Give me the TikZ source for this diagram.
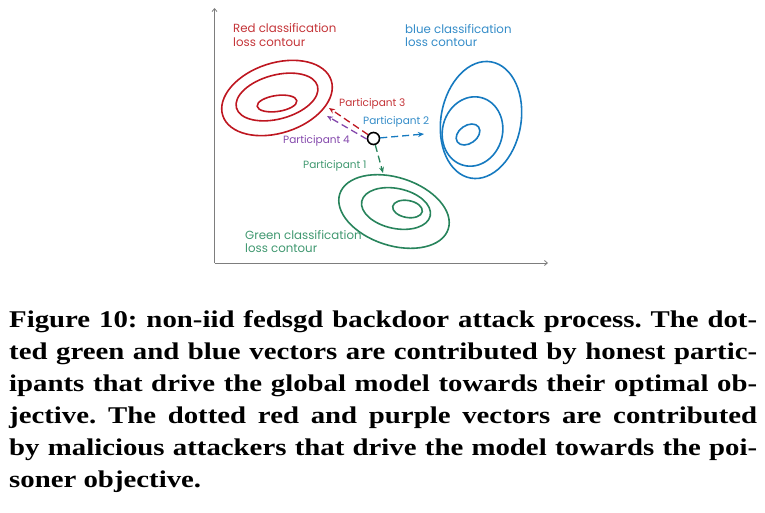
\documentclass[tikz,border=0pt]{standalone}
\usepackage{fontspec}
\setmainfont[FakeStretch=1.2]{Liberation Serif}
\newfontfamily\figfont{Poppins}
\usetikzlibrary{arrows.meta}

\definecolor{redc}{RGB}{190,22,32}
\definecolor{redt}{RGB}{196,52,56}
\definecolor{bluec}{RGB}{22,122,192}
\definecolor{bluet}{RGB}{52,140,200}
\definecolor{greenc}{RGB}{40,132,92}
\definecolor{greent}{RGB}{64,152,112}
\definecolor{purplec}{RGB}{132,72,172}
\definecolor{axisc}{RGB}{125,125,125}

\tikzset{
    contour/.style={line width=1.6pt},
    vec/.style={line width=1.3pt, dash pattern=on 7pt off 4pt, -{Stealth[length=6pt,width=5pt]}},
    axisline/.style={axisc, line width=0.8pt, -{Straight Barb[length=3pt,width=5pt]}},
    lbl/.style={font=\figfont\fontsize{11.8}{13.5}\selectfont, anchor=base west, inner sep=0pt, align=left},
    plbl/.style={font=\figfont\fontsize{10.5}{12}\selectfont, anchor=base west, inner sep=0pt},
}

\begin{document}
\begin{tikzpicture}[x=1pt,y=-1pt]
    \useasboundingbox (0,0) rectangle (765,513);
    % axes
    \coordinate (O) at (214.5,263);
    \coordinate (Ytop) at (214.5,8);
    \coordinate (Xend) at (548,263);
    \draw[axisline] (O) -- (Ytop);
    \draw[axisline] (O) -- (Xend);
    % red contours
    \draw[contour, redc, rotate around={18:(277,98)}] (277,98) ellipse [x radius=57pt, y radius=35pt];
    \draw[contour, redc, rotate around={15:(277,97)}] (277,97) ellipse [x radius=42pt, y radius=22pt];
    \draw[contour, redc, rotate around={8:(277,103.5)}] (277,103.5) ellipse [x radius=20pt, y radius=8pt];
    % blue contours
    \draw[contour, bluec, rotate around={-10:(481,120)}] (481,120) ellipse [x radius=40pt, y radius=59pt];
    \draw[contour, bluec, rotate around={-15:(472.5,131.5)}] (472.5,131.5) ellipse [x radius=30pt, y radius=35pt];
    \draw[contour, bluec, rotate around={35:(468,134.5)}] (468,134.5) ellipse [x radius=13pt, y radius=9pt];
    % green contours
    \draw[contour, greenc, rotate around={-18:(394,211.5)}] (394,211.5) ellipse [x radius=57pt, y radius=34pt];
    \draw[contour, greenc, rotate around={-12:(396,208.5)}] (396,208.5) ellipse [x radius=35pt, y radius=20pt];
    \draw[contour, greenc, rotate around={-10:(407.5,209)}] (407.5,209) ellipse [x radius=15pt, y radius=8.5pt];
    % global model and participant vectors
    \node[shape=circle, draw=black, fill=white, line width=1.6pt, minimum size=12pt, inner sep=0pt] (G) at (373.5,138.5) {};
    \coordinate (T1) at (383,173);
    \coordinate (T2) at (424,134);
    \coordinate (T3) at (329,108);
    \coordinate (T4) at (327,116);
    \draw[vec, greenc] (G) -- (T1);
    \draw[vec, bluec] (G) -- (T2);
    \draw[vec, purplec] (G.185) -- (T4);
    \draw[vec, redc] (G.145) -- (T3);
    % labels (base = baseline of the last line)
    \node[lbl, redt] (redlbl) at (233,46.5) {Red classification\\loss contour};
    \node[lbl, bluet] (bluelbl) at (405,47) {blue classification\\loss contour};
    \node[lbl, greent] (greenlbl) at (245,252.5) {Green classification\\loss contour};
    \node[plbl, redt] (p3) at (339,107) {Participant 3};
    \node[plbl, bluet] (p2) at (363,125) {Participant 2};
    \node[plbl, purplec] (p4) at (283,144) {Participant 4};
    \node[plbl, greent] (p1) at (303,168) {Participant 1};
    % caption
    \node[anchor=base west, inner sep=0pt, text width=748pt, align=justify,
          font=\bfseries\fontsize{24}{32}\selectfont] (caption) at (9,327)
    {\frenchspacing\hyphenpenalty=10000\tolerance=10000
     Figure 10: non-iid fedsgd backdoor attack process. The dot-\linebreak
     ted green and blue vectors are contributed by honest partic-\linebreak
     ipants that drive the global model towards their optimal ob-\linebreak
     jective. The dotted red and purple vectors are contributed\linebreak
     by malicious attackers that drive the model towards the poi-\linebreak
     soner objective.};
\end{tikzpicture}
\end{document}
